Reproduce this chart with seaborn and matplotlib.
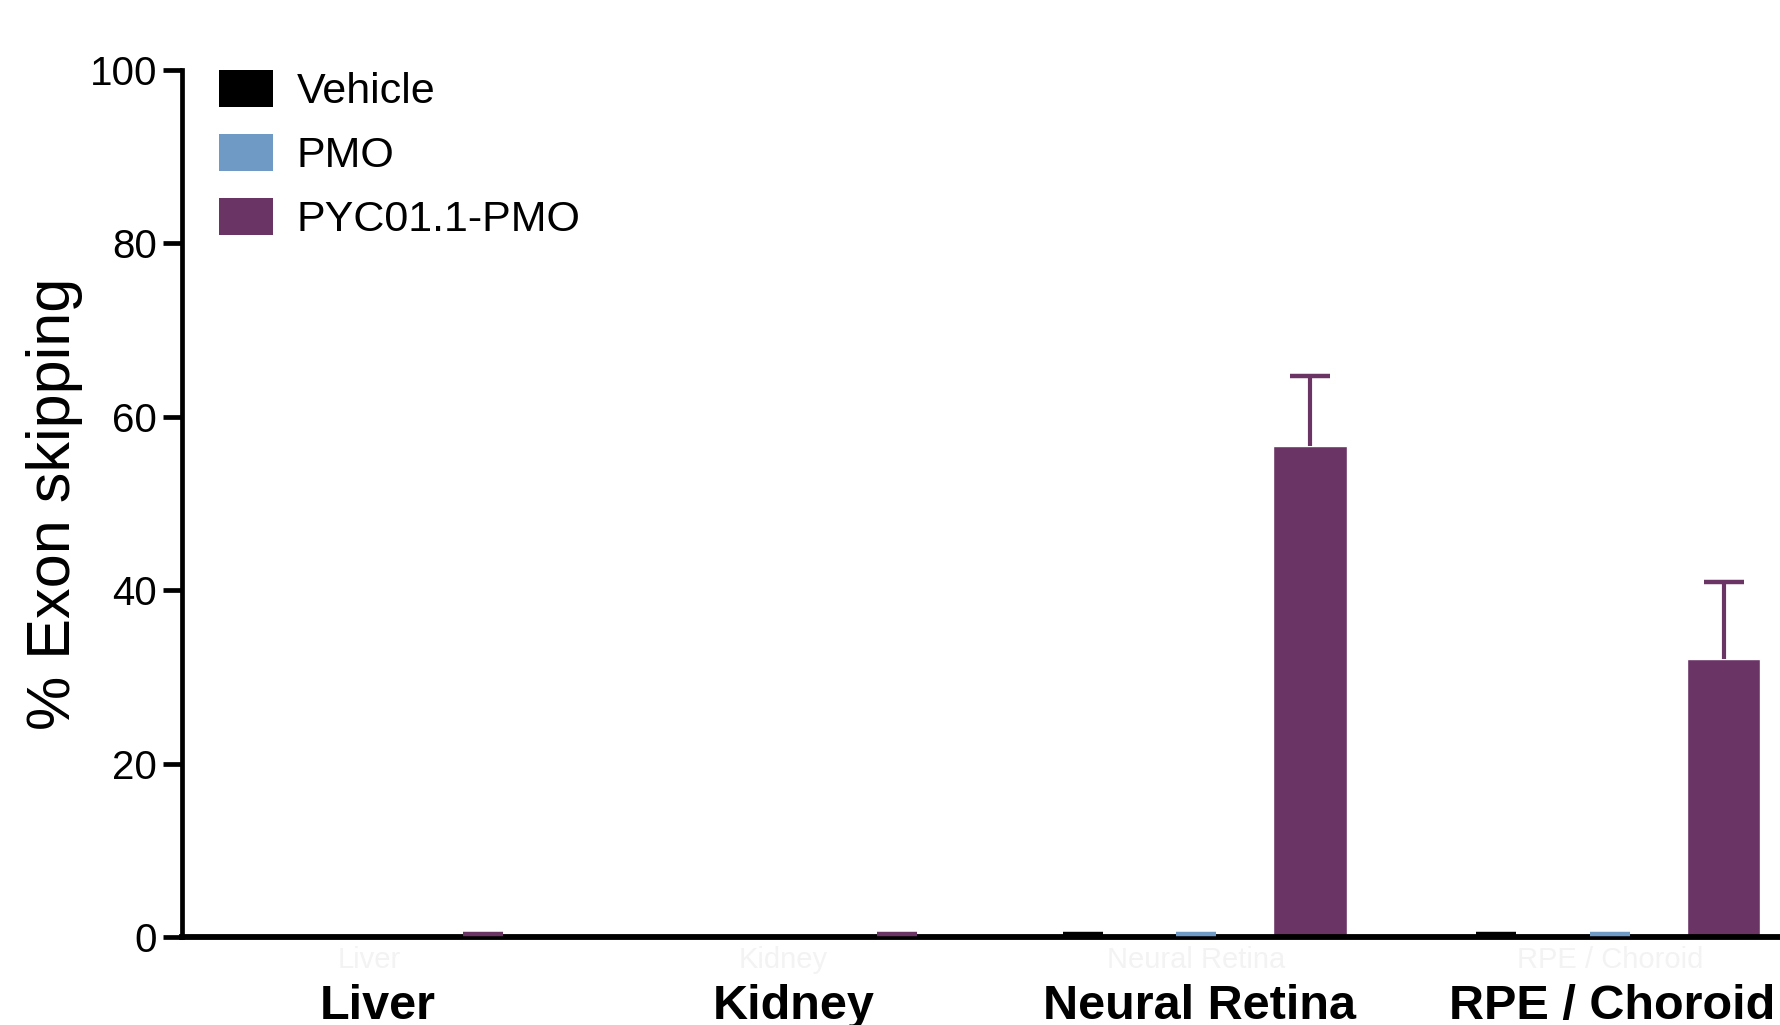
import numpy as np
import pandas as pd
import matplotlib
matplotlib.use("Agg")
import matplotlib.pyplot as plt
import matplotlib.transforms as mtransforms
from matplotlib.patches import Patch
import seaborn as sns

# Exon skipping per tissue and treatment (mean and SD, %)
tissues = ["Liver", "Kidney", "Neural Retina", "RPE / Choroid"]
treatments = ["Vehicle", "PMO", "PYC01.1-PMO"]
vehicle_mean = [0.0, 0.0, 0.1, 0.1]
vehicle_sd = [0.0, 0.0, 0.3, 0.3]
pmo_mean = [0.0, 0.0, 0.1, 0.1]
pmo_sd = [0.0, 0.0, 0.25, 0.25]
pyc_mean = [0.1, 0.1, 56.6, 32.1]
pyc_sd = [0.3, 0.3, 8.1, 8.9]
colors = ["#000000", "#709AC6", "#6A3465"]
y_ticks = [0, 20, 40, 60, 80, 100]

means = [vehicle_mean, pmo_mean, pyc_mean]
sds = [vehicle_sd, pmo_sd, pyc_sd]

df = pd.DataFrame({
    "tissue": np.tile(tissues, len(treatments)),
    "treatment": np.repeat(treatments, len(tissues)),
    "value": np.concatenate(means),
})

sns.set_style("ticks")
plt.rcParams["font.family"] = ["Liberation Sans", "DejaVu Sans"]
for key in ["text.color", "axes.labelcolor", "xtick.color", "ytick.color",
            "axes.edgecolor"]:
    plt.rcParams[key] = "black"

W, H = 1781, 1025
fig = plt.figure(figsize=(W / 100, H / 100), dpi=100)
ax = fig.add_axes([182 / W, 88 / H, 1599 / W, 867 / H])

sns.barplot(data=df, x="tissue", y="value", hue="treatment",
            order=tissues, hue_order=treatments, palette=colors,
            saturation=1, width=0.825, gap=0.35, errorbar=None,
            legend=False, ax=ax)

# upper-only error bars with a single cap
for cont, m, s, c in zip(ax.containers, means, sds, colors):
    for bar, mv, sv in zip(cont, m, s):
        if sv <= 0:
            continue
        x = bar.get_x() + bar.get_width() / 2
        _, caps, _ = ax.errorbar(x, mv, yerr=[[0], [sv]], fmt="none",
                                 ecolor=c, elinewidth=3.0, capsize=14.5,
                                 capthick=3.2, clip_on=False, zorder=3)
        caps[0].set_visible(False)

ax.set_xlim(-0.453, 3.414)
ax.set_ylim(0, 100)
ax.set_yticks(y_ticks)
ax.set_yticklabels([str(t) for t in y_ticks], fontsize=29)
ax.tick_params(axis="y", length=14, width=3.4, pad=4, color="black")
ax.tick_params(axis="x", length=0, pad=34)
# bold category labels, nudged slightly to the right
label_shift_pt = [6, 8, 2, 2]
for lbl, dx in zip(ax.get_xticklabels(), label_shift_pt):
    lbl.set_fontsize(35)
    lbl.set_fontweight("bold")
    lbl.set_transform(lbl.get_transform() + mtransforms.ScaledTranslation(
        dx / 72, 0, fig.dpi_scale_trans))
ax.set_xlabel("")
ax.set_ylabel("% Exon skipping", fontsize=44)
ax.yaxis.set_label_coords(-0.062, 0.5)

for side in ["top", "right"]:
    ax.spines[side].set_visible(False)
ax.spines["left"].set_linewidth(3.4)
ax.spines["bottom"].set_linewidth(4.2)

# faint secondary tissue labels under the axis
for i, t in enumerate(tissues):
    ax.text(i, -2.7, t, ha="center", va="center", fontsize=21,
            color="#f3f3f3", clip_on=False)

handles = [Patch(facecolor=c, edgecolor="none") for c in colors]
fig.legend(handles, treatments, loc="upper left",
           bbox_to_anchor=(219 / W, 1 - 70 / H), frameon=False,
           fontsize=31, handlelength=1.25, handleheight=0.95,
           handletextpad=0.55, labelspacing=0.5, borderpad=0,
           borderaxespad=0)

fig.savefig("out.png", dpi=100)
